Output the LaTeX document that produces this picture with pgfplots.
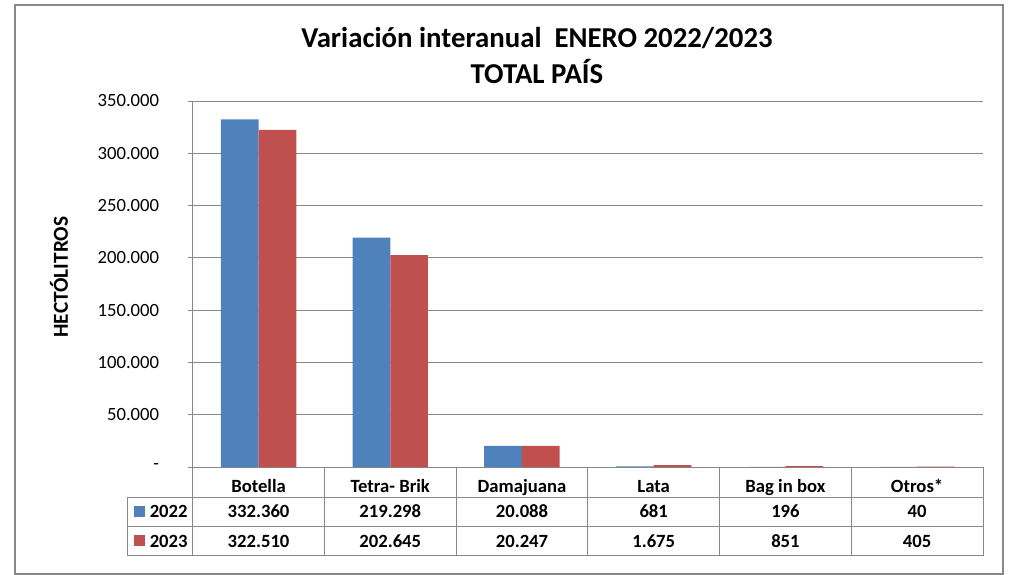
\documentclass[border=0pt]{standalone}
\usepackage{pgfplots}
\usepackage{pgfplotstable}
\pgfplotsset{compat=1.18}
\usepackage{fontspec}
\setmainfont{Carlito}

\definecolor{c2022}{HTML}{4F81BD}
\definecolor{c2023}{HTML}{C0504D}
\definecolor{gridc}{HTML}{888888}

\pgfplotstableread{
x y2022 y2023
0 332360 322510
1 219298 202645
2 20088 20247
3 681 1675
4 196 851
5 40 405
}\ventas

\begin{document}
\begin{tikzpicture}
% px grid of the reference image (1 px = 0.75pt), axis box corner at (192.7,467)
\begin{scope}[x=0.75pt,y=-0.75pt,xshift=-144.525pt,yshift=350.25pt]
  \useasboundingbox (0,0) rectangle (1011,575);
\end{scope}

\begin{axis}[
  scale only axis,
  width=592.7pt, height=274.5pt,
  xmin=-0.5, xmax=5.5,
  ymin=0, ymax=350000,
  ybar=0pt, bar width=28.3pt,
  axis x line*=bottom, axis y line*=left,
  axis line style={-, gridc, line width=0.75pt},
  xtick={0,...,5},
  xticklabels={Botella, Tetra- Brik, Damajuana, Lata, Bag in box, Otros*},
  xtick style={draw=none},
  xticklabel style={anchor=base, yshift=-15.5pt, font=\fontsize{14}{16}\selectfont\bfseries},
  ytick={0,50000,...,350000},
  scaled y ticks=false,
  yticklabels={{-\hspace{6pt}},50.000,100.000,150.000,200.000,250.000,300.000,350.000},
  yticklabel style={anchor=east, inner sep=0pt, xshift=-21.5pt, font=\fontsize{14}{16}\selectfont},
  tick align=outside, major tick length=3.5pt,
  ytick style={gridc, line width=0.75pt},
  ymajorgrids, grid style={gridc, line width=0.75pt},
  clip=false,
]
\addplot[fill=c2022, draw=none] table[x=x, y=y2022] {\ventas};
\addplot[fill=c2023, draw=none] table[x=x, y=y2023] {\ventas};
\end{axis}

\begin{scope}[x=0.75pt,y=-0.75pt,xshift=-144.525pt,yshift=350.25pt]
  % outer frame
  \draw[gridc, line width=1pt] (15,5) rectangle (1003,574);
  % title
  \node[anchor=base, font=\fontsize{21.6}{24}\selectfont\bfseries] at (537,48) {Variación interanual\ \ ENERO 2022/2023};
  \node[anchor=base, font=\fontsize{21.6}{24}\selectfont\bfseries] at (537,84) {TOTAL PAÍS};
  % y label
  \node[rotate=90, font=\fontsize{16}{18}\selectfont\bfseries] at (59,277) {HECTÓLITROS};
  % data table
  \draw[gridc, line width=0.75pt] (127.7,497.5) -- (983,497.5)
    (127.7,526.5) -- (983,526.5) (127.7,556) -- (983,556)
    (127.7,497.5) -- (127.7,556) (192.7,467) -- (192.7,556);
  \foreach \k in {1,...,6} {
    \draw[gridc, line width=0.75pt] ({192.7+131.72*\k},467) -- ({192.7+131.72*\k},556);
  }
  \fill[c2022] (134,506) rectangle (145,517);
  \fill[c2023] (134,535) rectangle (145,546);
  \node[anchor=base west, inner sep=0pt, font=\fontsize{14}{16}\selectfont\bfseries] at (149.5,518) {2022};
  \node[anchor=base west, inner sep=0pt, font=\fontsize{14}{16}\selectfont\bfseries] at (149.5,547) {2023};
  \foreach \v [count=\i from 0] in {332.360, 219.298, 20.088, 681, 196, 40} {
    \node[anchor=base, inner sep=0pt, font=\fontsize{14}{16}\selectfont\bfseries] at ({192.7+131.72*(\i+0.5)},518) {\v};
  }
  \foreach \v [count=\i from 0] in {322.510, 202.645, 20.247, 1.675, 851, 405} {
    \node[anchor=base, inner sep=0pt, font=\fontsize{14}{16}\selectfont\bfseries] at ({192.7+131.72*(\i+0.5)},547) {\v};
  }
\end{scope}
\end{tikzpicture}
\end{document}
